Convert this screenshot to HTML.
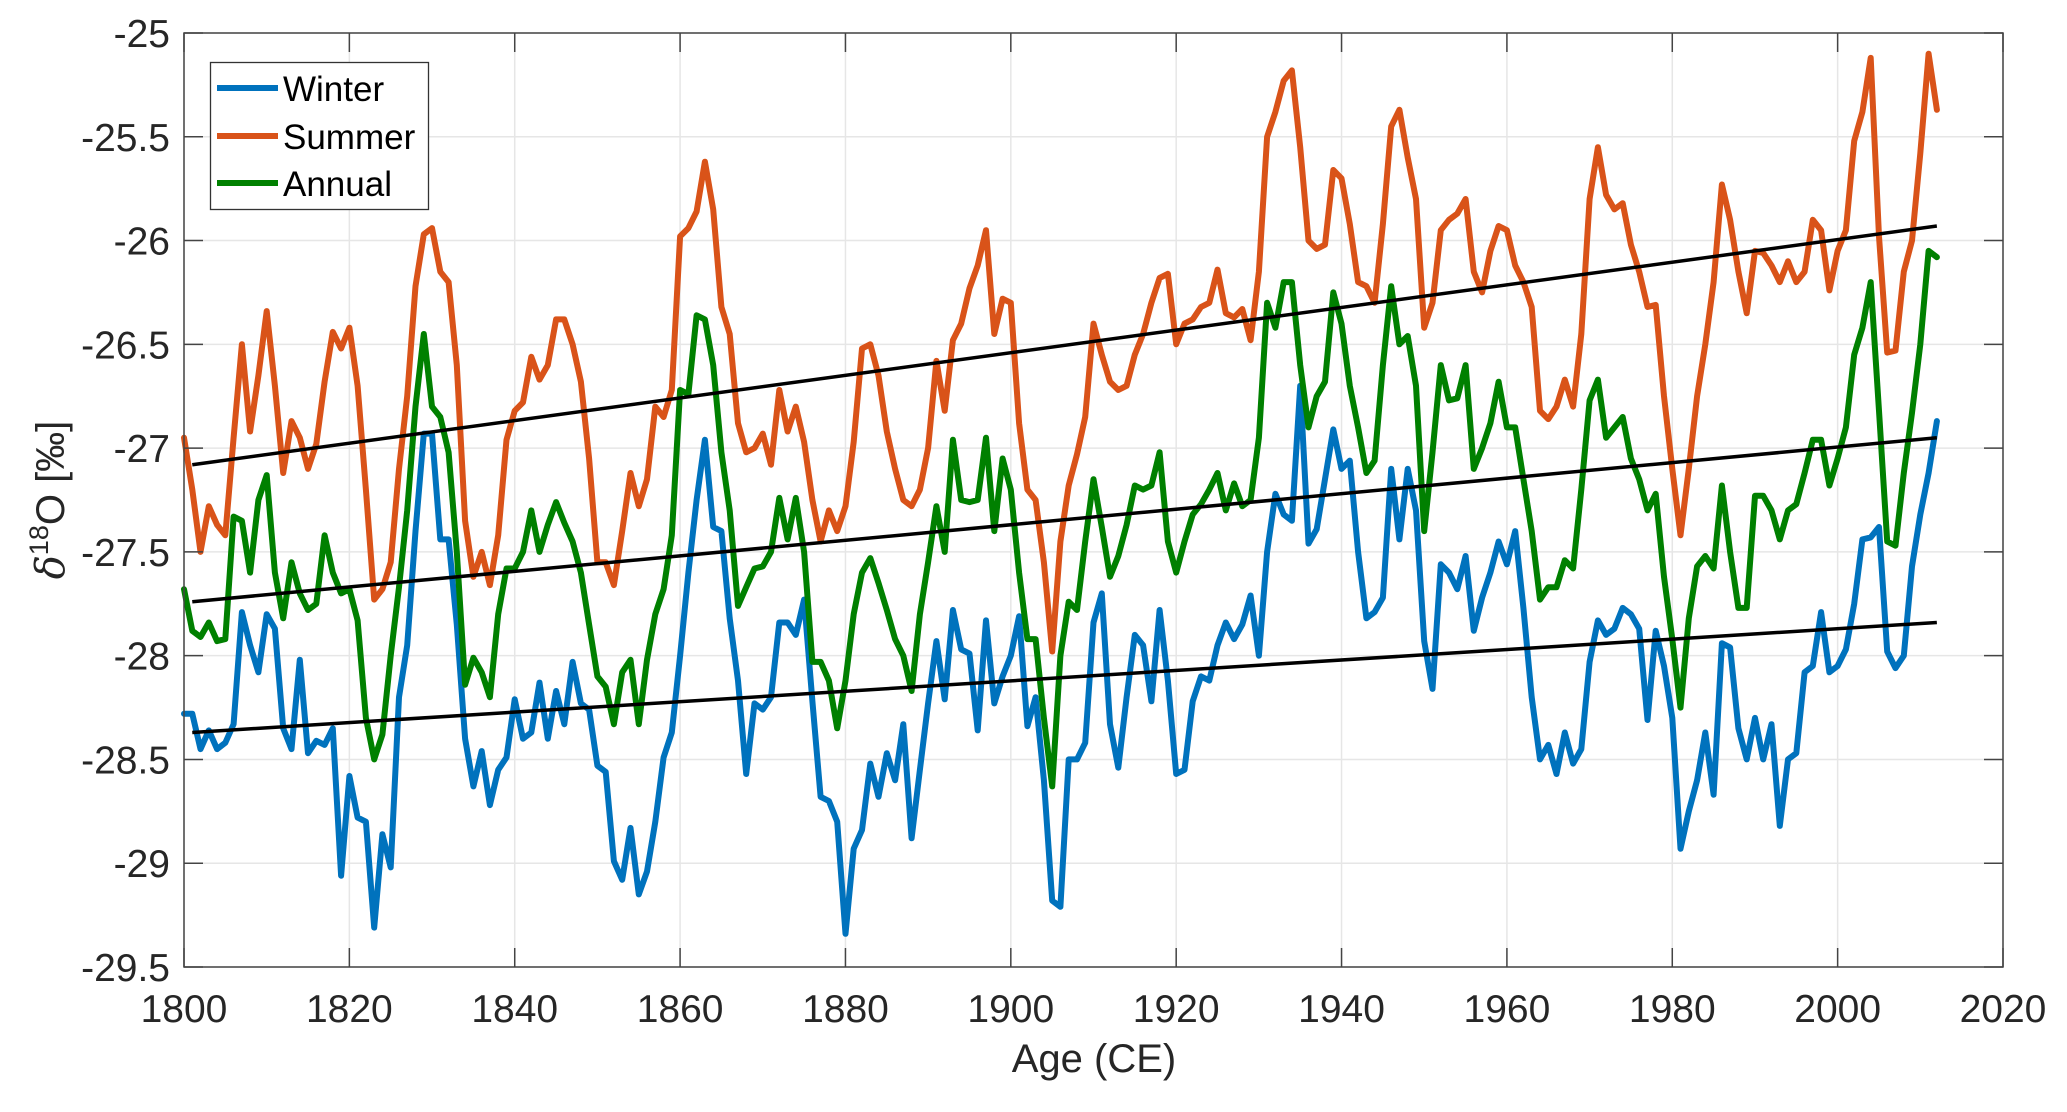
<!DOCTYPE html>
<html><head><meta charset="utf-8"><style>
html,body{margin:0;padding:0;background:#fff;}
svg text{font-family:"Liberation Sans",Arial,sans-serif;}
</style></head><body>
<svg id="chart" width="2067" height="1107" viewBox="0 0 2067 1107" xmlns="http://www.w3.org/2000/svg">
<rect width="2067" height="1107" fill="#fff"/>
<g id="grid"></g>
<g id="series"></g>
<g id="axes"></g>
<text x="1094" y="1072" font-size="40" fill="#262626" text-anchor="middle">Age (CE)</text>
<text transform="translate(64,500) rotate(-90)" font-size="40" fill="#262626" text-anchor="middle"><tspan font-style="italic" font-family="DejaVu Serif">δ</tspan><tspan font-size="27" dy="-16">18</tspan><tspan dy="16">O [‰]</tspan></text>
<g>
<rect x="210.5" y="62.5" width="218" height="147" fill="#fff" stroke="#333" stroke-width="1.3"/>
<g><line x1="217" y1="88" x2="278" y2="88" stroke="#0072BD" stroke-width="6"/><text x="283" y="101" font-size="35" fill="#000">Winter</text></g>
<g><line x1="217" y1="136" x2="278" y2="136" stroke="#D95319" stroke-width="6"/><text x="283" y="149" font-size="35" fill="#000">Summer</text></g>
<g><line x1="217" y1="183" x2="278" y2="183" stroke="#008000" stroke-width="6"/><text x="283" y="196" font-size="35" fill="#000">Annual</text></g>
</g>
</svg>
<script>
const startYear = 1800;
const xTicks = [1800,1820,1840,1860,1880,1900,1920,1940,1960,1980,2000,2020];
const yTicks = [-25,-25.5,-26,-26.5,-27,-27.5,-28,-28.5,-29,-29.5];
const yTickLabels = ["-25","-25.5","-26","-26.5","-27","-27.5","-28","-28.5","-29","-29.5"];
const winter = [-28.28,-28.28,-28.45,-28.36,-28.45,-28.42,-28.33,-27.79,-27.95,-28.08,-27.8,-27.87,-28.35,-28.45,-28.02,-28.47,-28.41,-28.43,-28.35,-29.06,-28.58,-28.78,-28.8,-29.31,-28.86,-29.02,-28.2,-27.95,-27.4,-26.93,-26.93,-27.44,-27.44,-27.85,-28.4,-28.63,-28.46,-28.72,-28.55,-28.49,-28.21,-28.4,-28.37,-28.13,-28.4,-28.17,-28.33,-28.03,-28.23,-28.26,-28.53,-28.56,-28.99,-29.08,-28.83,-29.15,-29.04,-28.8,-28.49,-28.37,-28.0,-27.6,-27.25,-26.96,-27.38,-27.4,-27.82,-28.12,-28.57,-28.23,-28.26,-28.2,-27.84,-27.84,-27.9,-27.73,-28.22,-28.68,-28.7,-28.8,-29.34,-28.93,-28.84,-28.52,-28.68,-28.47,-28.6,-28.33,-28.88,-28.55,-28.23,-27.93,-28.21,-27.78,-27.97,-27.99,-28.36,-27.83,-28.23,-28.1,-28.0,-27.81,-28.34,-28.2,-28.6,-29.18,-29.21,-28.5,-28.5,-28.42,-27.84,-27.7,-28.33,-28.54,-28.2,-27.9,-27.95,-28.22,-27.78,-28.12,-28.57,-28.55,-28.22,-28.1,-28.12,-27.95,-27.84,-27.92,-27.85,-27.71,-28.0,-27.5,-27.22,-27.32,-27.35,-26.7,-27.46,-27.39,-27.15,-26.91,-27.1,-27.06,-27.5,-27.82,-27.79,-27.72,-27.1,-27.44,-27.1,-27.3,-27.93,-28.16,-27.56,-27.6,-27.68,-27.52,-27.88,-27.72,-27.6,-27.45,-27.56,-27.4,-27.77,-28.2,-28.5,-28.43,-28.57,-28.37,-28.52,-28.45,-28.03,-27.83,-27.9,-27.87,-27.77,-27.8,-27.87,-28.31,-27.88,-28.05,-28.3,-28.93,-28.75,-28.6,-28.37,-28.67,-27.94,-27.96,-28.35,-28.5,-28.3,-28.5,-28.33,-28.82,-28.5,-28.47,-28.08,-28.05,-27.79,-28.08,-28.05,-27.97,-27.75,-27.44,-27.43,-27.38,-27.98,-28.06,-28.0,-27.57,-27.32,-27.12,-26.87];
const summer = [-26.95,-27.2,-27.5,-27.28,-27.37,-27.42,-26.95,-26.5,-26.92,-26.65,-26.34,-26.7,-27.12,-26.87,-26.95,-27.1,-26.98,-26.68,-26.44,-26.52,-26.42,-26.7,-27.2,-27.73,-27.68,-27.55,-27.1,-26.75,-26.22,-25.97,-25.94,-26.15,-26.2,-26.6,-27.35,-27.62,-27.5,-27.66,-27.42,-26.96,-26.82,-26.78,-26.56,-26.67,-26.6,-26.38,-26.38,-26.5,-26.68,-27.05,-27.55,-27.55,-27.66,-27.4,-27.12,-27.28,-27.15,-26.8,-26.85,-26.72,-25.98,-25.94,-25.86,-25.62,-25.85,-26.32,-26.45,-26.88,-27.02,-27.0,-26.93,-27.08,-26.72,-26.92,-26.8,-26.97,-27.25,-27.45,-27.3,-27.4,-27.28,-26.97,-26.52,-26.5,-26.65,-26.92,-27.1,-27.25,-27.28,-27.2,-27.0,-26.58,-26.82,-26.48,-26.4,-26.23,-26.12,-25.95,-26.45,-26.28,-26.3,-26.88,-27.2,-27.25,-27.55,-27.98,-27.45,-27.18,-27.03,-26.85,-26.4,-26.55,-26.68,-26.72,-26.7,-26.55,-26.45,-26.3,-26.18,-26.16,-26.5,-26.4,-26.38,-26.32,-26.3,-26.14,-26.35,-26.37,-26.33,-26.48,-26.15,-25.5,-25.38,-25.23,-25.18,-25.55,-26.0,-26.04,-26.02,-25.66,-25.7,-25.92,-26.2,-26.22,-26.3,-25.92,-25.45,-25.37,-25.6,-25.8,-26.42,-26.3,-25.95,-25.9,-25.87,-25.8,-26.15,-26.25,-26.05,-25.93,-25.95,-26.12,-26.2,-26.32,-26.82,-26.86,-26.8,-26.67,-26.8,-26.45,-25.8,-25.55,-25.78,-25.85,-25.82,-26.02,-26.15,-26.32,-26.31,-26.75,-27.1,-27.42,-27.1,-26.75,-26.5,-26.2,-25.73,-25.9,-26.15,-26.35,-26.05,-26.06,-26.12,-26.2,-26.1,-26.2,-26.15,-25.9,-25.95,-26.24,-26.05,-25.95,-25.52,-25.38,-25.12,-25.98,-26.54,-26.53,-26.15,-26.0,-25.58,-25.1,-25.37];
const annual = [-27.68,-27.88,-27.91,-27.84,-27.93,-27.92,-27.33,-27.35,-27.6,-27.25,-27.13,-27.6,-27.82,-27.55,-27.7,-27.78,-27.75,-27.42,-27.6,-27.7,-27.68,-27.83,-28.3,-28.5,-28.38,-28.0,-27.67,-27.3,-26.8,-26.45,-26.8,-26.85,-27.02,-27.5,-28.14,-28.01,-28.08,-28.2,-27.8,-27.58,-27.58,-27.5,-27.3,-27.5,-27.37,-27.26,-27.36,-27.45,-27.6,-27.85,-28.1,-28.15,-28.33,-28.08,-28.02,-28.33,-28.02,-27.8,-27.68,-27.42,-26.72,-26.74,-26.36,-26.38,-26.6,-27.02,-27.3,-27.76,-27.67,-27.58,-27.57,-27.5,-27.24,-27.44,-27.24,-27.5,-28.03,-28.03,-28.12,-28.35,-28.12,-27.8,-27.6,-27.53,-27.65,-27.78,-27.92,-28.0,-28.17,-27.8,-27.55,-27.28,-27.5,-26.96,-27.25,-27.26,-27.25,-26.95,-27.4,-27.05,-27.2,-27.6,-27.92,-27.92,-28.3,-28.63,-28.0,-27.74,-27.78,-27.45,-27.15,-27.38,-27.62,-27.52,-27.37,-27.18,-27.2,-27.18,-27.02,-27.45,-27.6,-27.45,-27.32,-27.27,-27.2,-27.12,-27.3,-27.17,-27.28,-27.25,-26.95,-26.3,-26.42,-26.2,-26.2,-26.6,-26.9,-26.75,-26.68,-26.25,-26.4,-26.7,-26.9,-27.12,-27.06,-26.6,-26.22,-26.5,-26.46,-26.7,-27.4,-27.02,-26.6,-26.77,-26.76,-26.6,-27.1,-27.0,-26.88,-26.68,-26.9,-26.9,-27.15,-27.4,-27.73,-27.67,-27.67,-27.54,-27.58,-27.2,-26.77,-26.67,-26.95,-26.9,-26.85,-27.05,-27.15,-27.3,-27.22,-27.62,-27.92,-28.25,-27.82,-27.57,-27.52,-27.58,-27.18,-27.5,-27.77,-27.77,-27.23,-27.23,-27.3,-27.44,-27.3,-27.27,-27.12,-26.96,-26.96,-27.18,-27.05,-26.9,-26.55,-26.42,-26.2,-26.82,-27.45,-27.47,-27.12,-26.83,-26.5,-26.05,-26.08];
const trendYears = [1801, 2012];
const trendSummer = [-27.08, -25.93];
const trendAnnual = [-27.74, -26.95];
const trendWinter = [-28.37, -27.84];

const L=184, R=2003, T=33, B=967;
const xMin=1800, xMax=2020, yMin=-29.5, yMax=-25;
function sx(v){return L+(v-xMin)/(xMax-xMin)*(R-L);}
function sy(v){return B-(v-yMin)/(yMax-yMin)*(B-T);}
const NS="http://www.w3.org/2000/svg";
function mk(tag,attrs,parent){const e=document.createElementNS(NS,tag);for(const k in attrs)e.setAttribute(k,attrs[k]);parent.appendChild(e);return e;}
const grid=document.getElementById('grid'), axes=document.getElementById('axes'), series=document.getElementById('series');

xTicks.forEach(t=>{
  const g=mk('line',{x1:sx(t),x2:sx(t),y1:T,y2:B,stroke:'#e6e6e6','stroke-width':1.5},grid);
  
  
});
yTicks.forEach(t=>{
  const g=mk('line',{x1:L,x2:R,y1:sy(t),y2:sy(t),stroke:'#e6e6e6','stroke-width':1.5},grid);
  
  
});

function poly(vals,color,name){
  const pts=vals.map((v,i)=>sx(startYear+i).toFixed(1)+','+sy(v).toFixed(1)).join(' ');
  const p=mk('polyline',{points:pts,fill:'none',stroke:color,'stroke-width':6,'stroke-linejoin':'round','stroke-linecap':'round'},series);
  
  
}
poly(winter,'#0072BD','winter-line');
poly(summer,'#D95319','summer-line');
poly(annual,'#008000','annual-line');

function trend(vals,name){
  const l=mk('line',{x1:sx(trendYears[0]),y1:sy(vals[0]),x2:sx(trendYears[1]),y2:sy(vals[1]),stroke:'#000','stroke-width':3.5},series);
  
  
}
trend(trendSummer,'summer-trend-line');
trend(trendAnnual,'annual-trend-line');
trend(trendWinter,'winter-trend-line');

const frame=mk('rect',{x:L,y:T,width:R-L,height:B-T,fill:'none',stroke:'#444','stroke-width':1.5},axes);



xTicks.forEach(t=>{
  const x=sx(t);
  mk('line',{x1:x,x2:x,y1:B,y2:B-19,stroke:'#444','stroke-width':1.5},axes);
  mk('line',{x1:x,x2:x,y1:T,y2:T+19,stroke:'#444','stroke-width':1.5},axes);
  const tx=mk('text',{x:x,y:1022,'font-size':39,fill:'#262626','text-anchor':'middle'},axes);
  tx.textContent=t;
  
  
});
yTicks.forEach((t,i)=>{
  const y=sy(t);
  mk('line',{x1:L,x2:L+19,y1:y,y2:y,stroke:'#444','stroke-width':1.5},axes);
  mk('line',{x1:R,x2:R-19,y1:y,y2:y,stroke:'#444','stroke-width':1.5},axes);
  const tx=mk('text',{x:170,y:y+14,'font-size':39,fill:'#262626','text-anchor':'end'},axes);
  tx.textContent=yTickLabels[i];
  
  
});
</script>
</body></html>
